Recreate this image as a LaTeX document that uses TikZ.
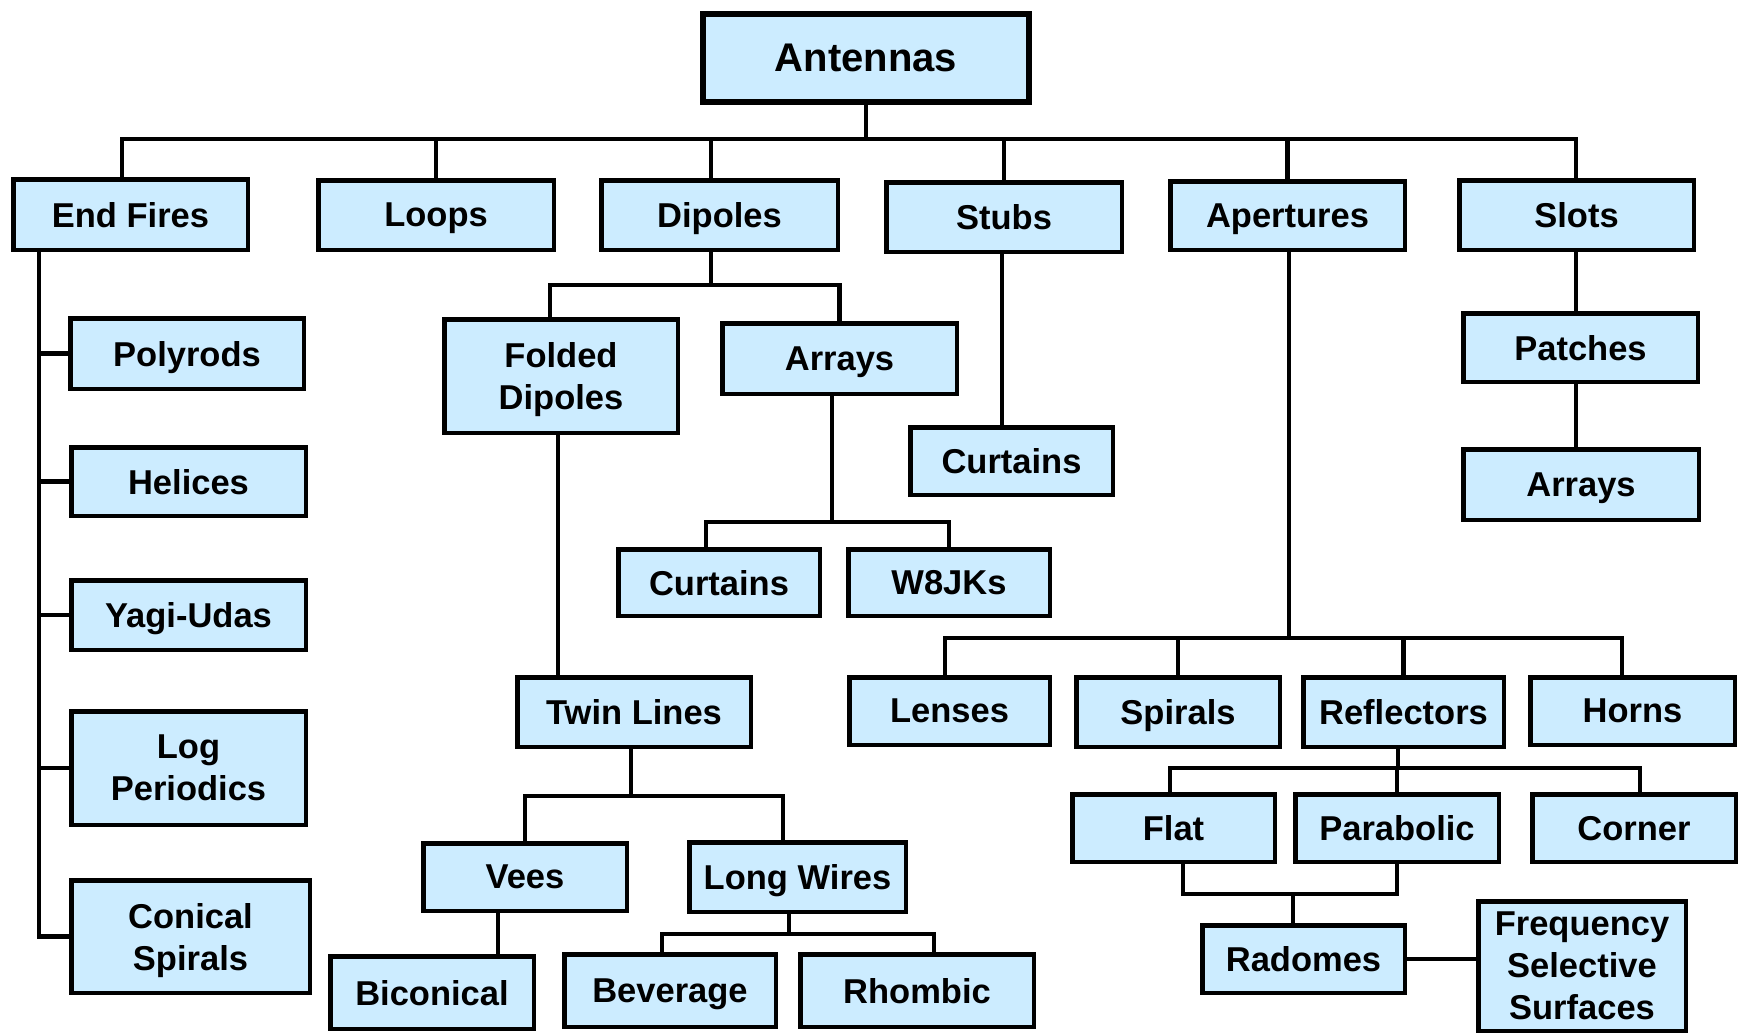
\documentclass[tikz,border=0pt]{standalone}
\usepackage{fontspec}
\setmainfont{Liberation Sans}
\definecolor{boxfill}{RGB}{204,236,255}
\tikzset{
  box/.style={draw=black, fill=boxfill, line width=4.5pt, align=center, inner sep=0pt,
    text depth=0pt, font=\fontsize{34.5}{42}\selectfont\bfseries},
  conn/.style={line width=4.5pt, draw=black, line join=miter},
}
\newcommand\bx[6]{\node[box, minimum width={#4-#2-4.5}, minimum height={#5-#3-4.5}] (#1) at ({(#2+#4)/2},{(#3+#5)/2}) {#6};}
\begin{document}
\begin{tikzpicture}[x=1pt,y=-1pt]
\fill[white] (0,0) rectangle (1740,1034);
\useasboundingbox (0,0) rectangle (1740,1034);
% root
\node[box, line width=6.5pt, font=\fontsize{40}{48}\selectfont\bfseries,
  minimum width=326pt, minimum height=88pt] (ant) at (866,58) {Antennas};
% first row
\bx{ef}{11}{177}{250}{252}{End Fires}
\bx{lp}{316}{178}{556}{252}{Loops}
\bx{dp}{599}{178}{840}{252}{Dipoles}
\bx{st}{884}{180}{1124}{254}{Stubs}
\bx{ap}{1168}{179}{1407}{252}{Apertures}
\bx{sl}{1457}{178}{1696}{252}{Slots}
% end fires
\bx{pr}{68}{316}{306}{391}{Polyrods}
\bx{he}{69}{445}{308}{518}{Helices}
\bx{yu}{69}{578}{308}{652}{Yagi-Udas}
\bx{lo}{69}{709}{308}{827}{Log\\Periodics}
\bx{cs}{69}{878}{312}{995}{Conical\\Spirals}
% dipoles
\bx{fd}{442}{317}{680}{435}{Folded\\Dipoles}
\bx{ar1}{720}{321}{959}{396}{Arrays}
\bx{cu1}{616}{547}{822}{618}{Curtains}
\bx{w8}{846}{547}{1052}{618}{W8JKs}
\bx{tw}{515}{675}{753}{749}{Twin Lines}
\bx{ve}{421}{841}{629}{913}{Vees}
\bx{lw}{687}{840}{908}{914}{Long Wires}
\bx{bi}{328}{954}{536}{1031}{Biconical}
\bx{be}{562}{952}{778}{1029}{Beverage}
\bx{rh}{798}{952}{1036}{1029}{Rhombic}
% stubs
\bx{cu2}{908}{425}{1115}{497}{Curtains}
% apertures
\bx{le}{847}{675}{1052}{747}{Lenses}
\bx{spi}{1074}{675}{1282}{749}{Spirals}
\bx{re}{1301}{675}{1506}{749}{Reflectors}
\bx{ho}{1528}{675}{1737}{747}{Horns}
\bx{fl}{1070}{792}{1277}{864}{Flat}
\bx{pa}{1293}{792}{1501}{864}{Parabolic}
\bx{co}{1530}{792}{1738}{864}{Corner}
\bx{ra}{1200}{923}{1407}{995}{Radomes}
\bx{fss}{1476}{899}{1688}{1033}{Frequency\\Selective\\Surfaces}
% slots
\bx{pa2}{1461}{311}{1700}{384}{Patches}
\bx{ar2}{1461}{447}{1701}{522}{Arrays}
% helper coordinates
\coordinate (tb) at (0,139);
\coordinate (efT) at (122,0);
\coordinate (dpT) at (711,0);
\coordinate (efS) at (39,0);
\coordinate (db) at (0,285);
\coordinate (fdT) at (550,0);
\coordinate (fdB) at (558,0);
\coordinate (arB) at (832,0);
\coordinate (ab) at (0,522);
\coordinate (cuT) at (706,0);
\coordinate (stB) at (1002,0);
\coordinate (twB) at (631,0);
\coordinate (tlb) at (0,796);
\coordinate (lwT) at (783,0);
\coordinate (veB) at (498,0);
\coordinate (lwB) at (789,0);
\coordinate (lb) at (0,934);
\coordinate (beT) at (662,0);
\coordinate (rhT) at (934,0);
\coordinate (apB) at (1289,0);
\coordinate (apb) at (0,638);
\coordinate (leT) at (945,0);
\coordinate (hoT) at (1622,0);
\coordinate (reB) at (1398,0);
\coordinate (rb) at (0,768);
\coordinate (flT) at (1170,0);
\coordinate (coT) at (1640,0);
\coordinate (flB) at (1183,0);
\coordinate (paB) at (1397,0);
\coordinate (fb) at (0,894);
\coordinate (raT) at (1293,0);
\coordinate (slB) at (1576,0);
% connectors
\draw[conn] (ant.south) -- (ant.south |- tb);
\draw[conn] (efT |- ef.north) |- (slB |- tb) -- (slB |- sl.north);
\foreach \n in {lp,st,ap} \draw[conn] (\n.north) -- (\n.north |- tb);
\draw[conn] (dpT |- dp.north) -- (dpT |- tb);
% end fires spine
\draw[conn] (efS |- ef.south) |- (cs.west);
\foreach \n in {pr,he,yu,lo} \draw[conn] (\n.west) -- (efS |- \n.west);
% dipoles
\draw[conn] (dpT |- dp.south) -- (dpT |- db);
\draw[conn] (fdT |- fd.north) |- (ar1.north |- db) -- (ar1.north);
\draw[conn] (fdB |- fd.south) -- (fdB |- tw.north);
\draw[conn] (arB |- ar1.south) -- (arB |- ab);
\draw[conn] (cuT |- cu1.north) |- (w8.north |- ab) -- (w8.north);
% stubs
\draw[conn] (stB |- st.south) -- (stB |- cu2.north);
% twin lines
\draw[conn] (twB |- tw.south) -- (twB |- tlb);
\draw[conn] (ve.north) |- (lwT |- tlb) -- (lwT |- lw.north);
\draw[conn] (veB |- ve.south) -- (veB |- bi.north);
\draw[conn] (lwB |- lw.south) -- (lwB |- lb);
\draw[conn] (beT |- be.north) |- (rhT |- lb) -- (rhT |- rh.north);
% apertures
\draw[conn] (apB |- ap.south) -- (apB |- apb);
\draw[conn] (leT |- le.north) |- (hoT |- apb) -- (hoT |- ho.north);
\draw[conn] (spi.north) -- (spi.north |- apb);
\draw[conn] (re.north) -- (re.north |- apb);
% reflectors
\draw[conn] (reB |- re.south) -- (reB |- rb);
\draw[conn] (flT |- fl.north) |- (coT |- rb) -- (coT |- co.north);
\draw[conn] (pa.north) -- (pa.north |- rb);
\draw[conn] (flB |- fl.south) |- (paB |- fb) -- (paB |- pa.south);
\draw[conn] (raT |- fb) -- (raT |- ra.north);
\draw[conn] (ra.east) -- (ra.east -| fss.west);
% slots
\draw[conn] (slB |- sl.south) -- (slB |- pa2.north);
\draw[conn] (slB |- pa2.south) -- (slB |- ar2.north);
\end{tikzpicture}
\end{document}
